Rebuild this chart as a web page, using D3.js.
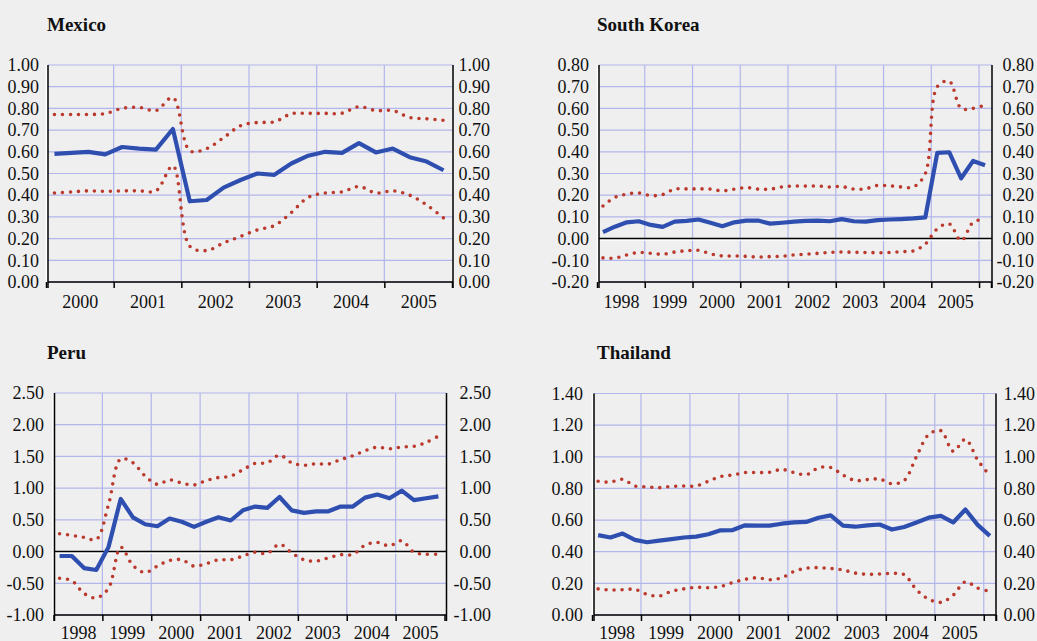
<!DOCTYPE html>
<html><head><meta charset="utf-8">
<script src="https://cdn.jsdelivr.net/npm/d3@7"></script>
<style>
html,body{margin:0;padding:0;background:#efefef;}
svg{display:block;}
</style></head><body>
<svg id="chart" width="1037" height="641"></svg>
<script>
// ---------------- DATA ----------------
const mexicoYears = ["2000","2001","2002","2003","2004","2005"];
const mexicoTicks = [0,0.1,0.2,0.3,0.4,0.5,0.6,0.7,0.8,0.9,1.0];
const mexicoCenter = [0.59,0.595,0.60,0.588,0.622,0.615,0.61,0.705,0.372,0.378,0.435,0.47,0.50,0.494,0.546,0.582,0.60,0.595,0.64,0.597,0.615,0.575,0.555,0.515];
const mexicoUpper  = [0.772,0.772,0.772,0.776,0.80,0.805,0.79,0.85,0.605,0.615,0.665,0.72,0.735,0.738,0.775,0.777,0.777,0.778,0.808,0.79,0.79,0.758,0.752,0.745];
const mexicoLower  = [0.41,0.415,0.42,0.418,0.42,0.42,0.42,0.535,0.165,0.145,0.18,0.21,0.24,0.26,0.32,0.39,0.41,0.415,0.44,0.41,0.42,0.40,0.355,0.295];

const koreaYears = ["1998","1999","2000","2001","2002","2003","2004","2005"];
const koreaTicks = [-0.2,-0.1,0,0.1,0.2,0.3,0.4,0.5,0.6,0.7,0.8];
const koreaCenter = [0.03,0.055,0.075,0.08,0.063,0.054,0.078,0.082,0.088,0.073,0.057,0.075,0.083,0.083,0.069,0.073,0.078,0.082,0.083,0.08,0.09,0.08,0.078,0.085,0.088,0.09,0.093,0.098,0.395,0.398,0.278,0.358,0.338];
const koreaUpper  = [0.15,0.19,0.205,0.21,0.198,0.203,0.228,0.229,0.229,0.228,0.22,0.228,0.235,0.228,0.228,0.238,0.242,0.242,0.242,0.238,0.24,0.228,0.23,0.245,0.243,0.238,0.238,0.30,0.70,0.725,0.60,0.60,0.615];
const koreaLower  = [-0.089,-0.09,-0.075,-0.064,-0.068,-0.072,-0.062,-0.056,-0.054,-0.07,-0.08,-0.08,-0.082,-0.085,-0.083,-0.082,-0.075,-0.072,-0.068,-0.064,-0.062,-0.063,-0.064,-0.065,-0.064,-0.06,-0.057,-0.025,0.045,0.068,-0.01,0.075,0.09];

const peruYears = ["1998","1999","2000","2001","2002","2003","2004","2005"];
const peruTicks = [-1.0,-0.5,0,0.5,1.0,1.5,2.0,2.5];
const peruCenter = [-0.07,-0.07,-0.26,-0.29,0.07,0.83,0.54,0.43,0.40,0.52,0.47,0.39,0.47,0.54,0.49,0.65,0.71,0.69,0.86,0.65,0.61,0.635,0.635,0.71,0.71,0.85,0.90,0.84,0.96,0.81,0.84,0.87];
const peruUpper  = [0.28,0.255,0.225,0.19,0.74,1.46,1.40,1.19,1.06,1.13,1.08,1.05,1.12,1.167,1.19,1.29,1.39,1.40,1.52,1.40,1.36,1.385,1.38,1.45,1.51,1.59,1.645,1.62,1.65,1.66,1.72,1.82];
const peruLower  = [-0.42,-0.46,-0.66,-0.73,-0.58,0.07,-0.22,-0.33,-0.23,-0.14,-0.13,-0.23,-0.19,-0.13,-0.13,-0.07,-0.01,-0.03,0.115,-0.02,-0.13,-0.15,-0.10,-0.05,-0.045,0.10,0.145,0.09,0.17,-0.01,-0.04,-0.04];

const thaiYears = ["1998","1999","2000","2001","2002","2003","2004","2005"];
const thaiTicks = [0,0.2,0.4,0.6,0.8,1.0,1.2,1.4];
const thaiCenter = [0.505,0.49,0.515,0.475,0.46,0.47,0.48,0.49,0.495,0.51,0.535,0.537,0.567,0.565,0.565,0.577,0.585,0.588,0.615,0.63,0.565,0.558,0.566,0.572,0.54,0.556,0.585,0.615,0.627,0.585,0.667,0.57,0.50];
const thaiUpper  = [0.845,0.84,0.858,0.815,0.81,0.805,0.813,0.815,0.815,0.845,0.875,0.885,0.90,0.90,0.902,0.92,0.90,0.887,0.93,0.932,0.885,0.85,0.856,0.859,0.83,0.85,1.0,1.14,1.165,1.035,1.11,0.98,0.88];
const thaiLower  = [0.165,0.158,0.16,0.162,0.13,0.12,0.15,0.165,0.175,0.172,0.18,0.205,0.225,0.235,0.223,0.235,0.275,0.296,0.299,0.294,0.285,0.265,0.257,0.259,0.263,0.255,0.16,0.10,0.08,0.125,0.21,0.17,0.15];

// ---------------- LAYOUT ----------------
const panels = [
  {title:"Mexico", years:mexicoYears, ticks:mexicoTicks, center:mexicoCenter, upper:mexicoUpper, lower:mexicoLower,
   x0:46, x1:452, axisL:48, axisR:453, top:65, bottom:282, labL:39, labR:490, tx:47, ty:31, yearPad:13},
  {title:"South Korea", years:koreaYears, ticks:koreaTicks, center:koreaCenter, upper:koreaUpper, lower:koreaLower,
   x0:597, x1:991, axisL:599, axisR:992, top:65, bottom:282, labL:589, labR:1034, tx:597, ty:31, yearPad:13},
  {title:"Peru", years:peruYears, ticks:peruTicks, center:peruCenter, upper:peruUpper, lower:peruLower,
   x0:53.5, x1:444.5, axisL:54.5, axisR:446.5, top:393, bottom:615, labL:44, labR:491, tx:47, ty:359, yearPad:11},
  {title:"Thailand", years:thaiYears, ticks:thaiTicks, center:thaiCenter, upper:thaiUpper, lower:thaiLower,
   x0:592, x1:996, axisL:594, axisR:996, top:393.5, bottom:615, labL:583, labR:1035, tx:597, ty:359, yearPad:11}
];

const GRID = "#b3b6ea", BLUE = "#2f4fb0", RED = "#bb3a2e", FONT = "'Liberation Serif','Times New Roman',serif";
const fmt = d => d.toFixed(2);
const svg = d3.select("#chart");
svg.append("rect").attr("width",1037).attr("height",641).attr("fill","#efefef");

function drawPanel(p){
  const n = p.center.length;
  const g = svg.append("g");
  const x = d3.scaleLinear().domain([0, n]).range([p.x0, p.x1]);
  const y = d3.scaleLinear().domain([p.ticks[0], p.ticks[p.ticks.length-1]]).range([p.bottom, p.top]);

  // horizontal grid
  g.append("g").selectAll("line").data(p.ticks.filter(t => t !== 0 || p.ticks[0] === 0)).join("line")
    .attr("x1", p.axisL).attr("x2", p.axisR)
    .attr("y1", d => y(d)).attr("y2", d => y(d))
    .attr("stroke", GRID).attr("stroke-width", 1.2);
  // vertical grid at year boundaries
  g.append("g").selectAll("line").data(d3.range(4, n, 4)).join("line")
    .attr("x1", d => x(d)).attr("x2", d => x(d))
    .attr("y1", p.top).attr("y2", p.bottom)
    .attr("stroke", GRID).attr("stroke-width", 1.2);

  // zero line
  if (p.ticks[0] < 0) {
    g.append("line").attr("x1", p.axisL).attr("x2", p.axisR).attr("y1", y(0)+1.5).attr("y2", y(0)+1.5)
      .attr("stroke", "#fff").attr("stroke-width", 1.5);
    g.append("line").attr("x1", p.axisL).attr("x2", p.axisR).attr("y1", y(0)).attr("y2", y(0))
      .attr("stroke", "#000").attr("stroke-width", 1.5);
  }

  // axis lines
  g.append("line").attr("x1", p.axisL-1.6).attr("x2", p.axisL-1.6).attr("y1", p.top).attr("y2", p.bottom+6)
    .attr("stroke", "#fff").attr("stroke-width", 1.5);
  g.append("line").attr("x1", p.axisL).attr("x2", p.axisL).attr("y1", p.top).attr("y2", p.bottom+6)
    .attr("stroke", "#000").attr("stroke-width", 1.5);
  g.append("line").attr("x1", p.axisR).attr("x2", p.axisR).attr("y1", p.top).attr("y2", p.bottom+6)
    .attr("stroke", "#000").attr("stroke-width", 1.5);
  g.append("line").attr("x1", p.axisL).attr("x2", p.axisR).attr("y1", p.bottom).attr("y2", p.bottom)
    .attr("stroke", "#000").attr("stroke-width", 1.5);

  // bottom ticks
  const tickVals = d3.range(0, n+1, 4); if (tickVals[tickVals.length-1] !== n) tickVals.push(n);
  const bt = g.append("g").attr("transform", `translate(0,${p.bottom})`)
    .call(d3.axisBottom(x).tickValues(tickVals).tickSize(6).tickFormat(""));
  bt.select(".domain").remove();
  bt.selectAll(".tick line").attr("stroke", "#000").attr("stroke-width", 1.5);

  // year labels
  const yl = g.append("g").attr("transform", `translate(0,${p.bottom})`)
    .call(d3.axisBottom(x).tickValues(p.years.map((_, i) => 4*i+2)).tickSize(0).tickPadding(p.yearPad)
      .tickFormat((d, i) => p.years[i]));
  yl.select(".domain").remove();
  yl.selectAll("text").attr("font-family", FONT).attr("font-size", 18).attr("fill", "#111");

  // left and right value labels
  const la = g.append("g").attr("transform", `translate(${p.labL},0)`)
    .call(d3.axisLeft(y).tickValues(p.ticks).tickSize(0).tickPadding(0).tickFormat(fmt));
  la.select(".domain").remove();
  la.selectAll("text").attr("font-family", FONT).attr("font-size", 18).attr("fill", "#111");
  const ra = g.append("g").attr("transform", `translate(${p.labR},0)`)
    .call(d3.axisLeft(y).tickValues(p.ticks).tickSize(0).tickPadding(0).tickFormat(fmt));
  ra.select(".domain").remove();
  ra.selectAll("text").attr("font-family", FONT).attr("font-size", 18).attr("fill", "#111");

  // lines
  const smooth = d3.line().x((d, i) => x(i+0.5)).y(d => y(d)).curve(d3.curveCatmullRom.alpha(0.5));
  const straight = d3.line().x((d, i) => x(i+0.5)).y(d => y(d));
  [p.upper, p.lower].forEach(arr => {
    g.append("path").attr("d", smooth(arr)).attr("fill", "none")
      .attr("stroke", RED).attr("stroke-width", 3.6).attr("stroke-linecap", "round")
      .attr("stroke-dasharray", "0 8");
  });
  g.append("path").attr("d", straight(p.center)).attr("fill", "none")
    .attr("stroke", BLUE).attr("stroke-width", 4.2).attr("stroke-linejoin", "round");

  // title
  g.append("text").attr("x", p.tx).attr("y", p.ty).text(p.title)
    .attr("font-family", FONT).attr("font-size", 19).attr("font-weight", "bold").attr("fill", "#111");
}
panels.forEach(drawPanel);
</script>
</body></html>
